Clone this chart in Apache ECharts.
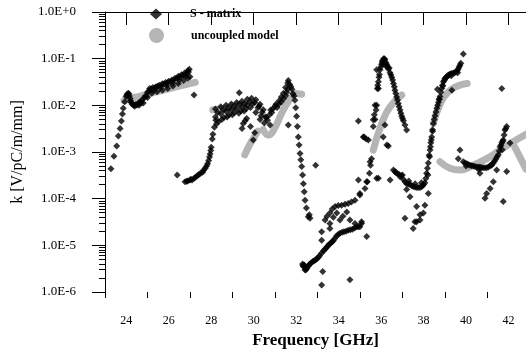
<!DOCTYPE html>
<html>
<head>
<meta charset="utf-8">
<script src="https://cdn.jsdelivr.net/npm/echarts@6/dist/echarts.min.js"></script>
<style>html,body{margin:0;padding:0;background:#fff}#c{width:526px;height:349px}</style>
</head>
<body>
<div id="c"></div>
<script>
// ---------- DATA (frequency GHz, k V/pC/m/mm) ----------
// S - matrix, first resonance band
const sBand1 = [
 [23.28,4.4e-4],[23.42,8.1e-4],[23.55,1.35e-3],[23.63,2.2e-3],[23.71,3.2e-3],[23.77,4.6e-3],[23.82,6.5e-3],[23.86,8.7e-3],
 [23.93,1.2e-2],[23.99,1.55e-2],[24.05,1.74e-2],[24.1,1.82e-2],[24.15,1.58e-2],[24.2,1.26e-2],[24.27,1.07e-2],[24.33,1.02e-2],
 [24.45,1.05e-2],[24.6,1.15e-2],[24.75,1.32e-2],[24.9,1.58e-2],[25.0,1.9e-2],[25.1,2.3e-2],[25.25,2.4e-2],[25.4,2.5e-2],
 [25.55,2.7e-2],[25.7,2.9e-2],[25.85,3.1e-2],[26.0,3.3e-2],[26.15,3.5e-2],[26.3,3.8e-2],[26.45,4.2e-2],[26.6,4.5e-2],
 [26.75,4.9e-2],[26.9,5.5e-2],[26.97,5.9e-2],[27.0,4.1e-2],[27.19,1.66e-2],
 [24.4,9.5e-3],[24.6,1.0e-2],[24.8,1.12e-2],[25.0,1.48e-2],[25.2,1.82e-2],[25.45,1.95e-2],[25.7,2.1e-2],[25.95,2.3e-2],
 [26.2,2.6e-2],[26.45,2.95e-2],[26.7,3.4e-2],[26.9,3.8e-2],
 [24.5,1.02e-2],[24.7,1.12e-2],[24.95,1.58e-2],[25.3,2.1e-2],[25.6,2.4e-2],[25.9,2.7e-2],[26.2,3.0e-2],[26.5,3.5e-2],[26.8,4.2e-2],
 [24.38,1.0e-2],[24.55,1.08e-2],[24.68,1.2e-2],[24.85,1.45e-2],[25.05,2.0e-2],[25.18,2.2e-2],[25.35,2.35e-2],[25.48,2.55e-2],
 [25.63,2.65e-2],[25.78,2.85e-2],[25.93,3.0e-2],[26.08,3.2e-2],[26.23,3.5e-2],[26.38,3.8e-2],[26.53,4.0e-2],[26.68,4.4e-2],
 [26.83,4.8e-2],[26.93,5.2e-2],[24.03,1.65e-2],[24.12,1.75e-2],[24.18,1.4e-2],[24.24,1.15e-2]
];
// S - matrix, second band (26.4 - 32.9 GHz)
const sBand2 = [
 [26.4,3.2e-4],[26.77,2.3e-4],[26.85,2.35e-4],[26.9,2.4e-4],[27.0,2.5e-4],[27.05,2.6e-4],[27.1,2.5e-4],[27.2,2.75e-4],[27.27,2.9e-4],
 [27.35,3.1e-4],[27.42,3.3e-4],[27.5,3.5e-4],[27.6,3.7e-4],[27.65,4.1e-4],[27.72,4.5e-4],[27.78,5.0e-4],[27.83,5.6e-4],[27.88,6.6e-4],
 [27.92,7.8e-4],[27.95,9.1e-4],[27.98,1.08e-3],[28.0,1.26e-3],[28.05,1.9e-3],[28.08,2.4e-3],[28.15,3.4e-3],[28.22,4.8e-3],
 [28.2,8.3e-3],[28.45,9.3e-3],[28.7,1.0e-2],[28.95,1.07e-2],[29.2,1.15e-2],[29.45,1.23e-2],[29.7,1.35e-2],[29.9,1.41e-2],[30.1,1.32e-2],[30.3,1.05e-2],
 [28.2,5.6e-3],[28.45,6.6e-3],[28.7,7.4e-3],[28.95,7.9e-3],[29.2,8.5e-3],[29.45,9.3e-3],[29.7,1.0e-2],[29.95,1.07e-2],[30.2,8.9e-3],[30.4,7.1e-3],[30.55,5.6e-3],
 [28.25,4.0e-3],[28.5,5.0e-3],[28.75,5.6e-3],[29.0,6.3e-3],[29.3,6.8e-3],[29.55,7.6e-3],[30.3,5.0e-3],[30.5,4.2e-3],[30.65,4.8e-3],
 [28.3,7.0e-3],[28.58,8.0e-3],[28.83,8.8e-3],[29.08,9.5e-3],[29.33,1.05e-2],[29.58,1.1e-2],[29.82,1.2e-2],[30.05,1.15e-2],[30.25,9.5e-3],[30.45,8.0e-3],
 [28.35,4.5e-3],[28.6,5.5e-3],[28.85,6.3e-3],[29.1,7.0e-3],[29.4,7.6e-3],[29.65,8.5e-3],[29.85,9.0e-3],[30.1,7.0e-3],[30.35,6.0e-3],[30.6,5.5e-3],
 [30.75,6.3e-3],[30.9,8.3e-3],[31.05,1.05e-2],[31.2,1.26e-2],[31.3,1.51e-2],[31.4,1.82e-2],[31.5,2.4e-2],[31.6,3.0e-2],[31.63,3.4e-2],[31.7,2.8e-2],
 [30.8,7.9e-3],[31.0,9.5e-3],[31.2,1.07e-2],[31.4,1.38e-2],[31.55,1.9e-2],[30.85,7.0e-3],[31.1,9.0e-3],[31.3,1.2e-2],[31.5,1.6e-2],[31.6,2.2e-2],
 [29.32,1.86e-2],[29.51,4.1e-3],[29.67,5.2e-3],[29.98,1.8e-3],[30.77,3.8e-3],[31.63,3.8e-3],[29.45,3.2e-3],[29.85,3.5e-3],[29.6,4.7e-3],[30.05,2.6e-3],
 [31.75,2.5e-2],[31.8,2.2e-2],[31.85,1.78e-2],[31.9,1.58e-2],[31.94,1.29e-2],[31.98,8.9e-3],[32.02,5.8e-3],[32.06,3.5e-3],[32.1,2.1e-3],[32.14,1.41e-3],
 [32.18,9.3e-4],[32.22,6.8e-4],[32.26,4.9e-4],[32.3,3.2e-4],[32.34,2.1e-4],[32.38,1.41e-4],[32.42,9.3e-5],[32.48,6.3e-5],[32.57,4.1e-5],[32.62,4.5e-5],
 [32.65,3.8e-5],[32.92,5.2e-4]
];
// S - matrix, low region (32.3 - 35.6 GHz)
const sBand3 = [
 [32.3,4.0e-6],[32.34,3.5e-6],[32.38,3.8e-6],[32.42,2.95e-6],[32.5,3.2e-6],[32.6,3.8e-6],[32.7,4.2e-6],[32.85,4.7e-6],[32.97,5.1e-6],
 [33.1,6.0e-6],[33.28,7.6e-6],[33.4,8.7e-6],[33.51,1.0e-5],[33.63,1.12e-5],[33.75,1.26e-5],[33.9,1.58e-5],[34.06,1.82e-5],[34.25,1.95e-5],
 [34.45,2.1e-5],[34.65,2.2e-5],[34.85,2.5e-5],[35.0,2.5e-5],[35.08,2.95e-5],[35.32,1.55e-5],
 [32.32,3.7e-6],[32.46,3.0e-6],[32.55,3.5e-6],[32.65,4.0e-6],[32.78,4.5e-6],[32.91,4.9e-6],[33.04,5.5e-6],[33.19,6.8e-6],[33.34,8.1e-6],
 [33.46,9.3e-6],[33.57,1.05e-5],[33.69,1.2e-5],[33.82,1.4e-5],[33.98,1.7e-5],[34.16,1.9e-5],[34.35,2.0e-5],[34.55,2.15e-5],[34.75,2.35e-5],[34.92,2.5e-5],
 [33.2,1.41e-6],[33.25,2.75e-6],[34.53,1.82e-6],
 [33.2,1.29e-5],[33.2,1.95e-5],[33.36,3.5e-5],[33.45,4.2e-5],[33.59,4.9e-5],[33.7,6.0e-5],[33.83,6.8e-5],[33.98,7.1e-5],[34.14,7.2e-5],
 [34.3,7.6e-5],[34.45,7.9e-5],[34.6,8.5e-5],[34.77,9.3e-5],[35.0,1.2e-4],[35.24,1.66e-4],[35.35,2.3e-4],[35.45,3.5e-4],[35.5,5.2e-4],[35.55,7.2e-4],
 [33.59,2.95e-5],[33.75,4.0e-5],[33.91,4.9e-5],[34.06,3.5e-5],[34.2,4.2e-5],[34.38,5.2e-5],[34.53,3.5e-5],[34.77,2.95e-5],[35.08,3.2e-5],[33.59,2.3e-5],
 [34.93,2.5e-4],[35.32,2.3e-4],[35.0,1.29e-4],[35.79,2.75e-4],[35.87,2.75e-4],[36.42,2.5e-4],[35.48,6.2e-4]
];
// S - matrix, peak near 36 GHz, trough and rise to 40 GHz
const sBand4 = [
 [34.93,4.6e-3],[35.16,2.1e-3],[35.2,2.1e-3],[35.3,1.9e-3],[35.4,1.8e-3],[36.1,2.1e-3],[36.18,3.8e-3],[36.34,1.35e-3],[36.27,1.41e-3],
 [35.63,3.5e-3],[35.71,5.0e-3],[35.76,7.9e-3],[35.79,1.0e-2],[35.82,2.3e-2],[35.87,3.2e-2],[35.9,4.0e-2],[35.95,5.8e-2],[36.02,7.6e-2],
 [36.07,9.1e-2],[36.12,1.0e-1],[36.18,9.5e-2],[36.22,8.3e-2],[36.26,7.6e-2],[36.3,6.8e-2],[36.34,6.0e-2],[36.42,5.0e-2],[36.5,4.0e-2],
 [36.58,2.95e-2],[36.65,2.1e-2],[36.73,1.51e-2],[36.81,1.1e-2],[36.89,7.9e-3],[36.97,5.8e-3],[37.05,4.7e-3],[37.12,3.8e-3],[37.2,2.95e-3],
 [35.84,2.7e-2],[35.92,4.6e-2],[35.98,6.6e-2],[36.05,8.5e-2],[36.15,1.0e-1],[36.46,4.5e-2],[36.54,3.5e-2],[36.62,2.5e-2],[36.69,1.8e-2],
 [36.77,1.3e-2],[36.85,9.3e-3],[36.93,6.8e-3],[37.01,5.2e-3],
 [35.79,5.8e-2],[35.87,2.3e-2],[35.71,1.0e-2],[35.63,4.9e-3],[35.68,6.3e-3],[36.1,7.9e-2],[36.2,7.1e-2],[36.38,6.3e-2],
 [36.58,4.1e-4],[36.65,3.8e-4],[36.75,3.5e-4],[36.89,2.95e-4],[37.04,2.6e-4],[37.2,2.1e-4],[37.36,2.0e-4],[37.51,1.82e-4],[37.67,1.74e-4],
 [37.83,1.74e-4],[37.95,1.9e-4],[38.06,2.2e-4],[38.14,3.5e-4],[38.22,5.8e-4],[38.3,1.1e-3],[38.34,1.58e-3],[38.38,2.1e-3],[38.46,4.1e-3],
 [38.54,6.0e-3],[38.62,8.7e-3],[38.7,1.17e-2],[38.77,1.55e-2],[38.85,2.3e-2],[38.93,3.2e-2],[39.0,3.7e-2],[39.08,4.1e-2],[39.16,4.4e-2],
 [39.25,4.7e-2],[39.4,4.9e-2],[39.52,5.2e-2],[39.63,6.0e-2],[39.71,7.2e-2],[39.87,1.26e-1],
 [36.7,3.6e-4],[36.95,3.1e-4],[37.12,2.3e-4],[37.28,2.05e-4],[37.44,1.9e-4],[37.59,1.78e-4],[37.75,1.74e-4],[37.9,1.8e-4],[38.0,2.0e-4],[38.1,2.7e-4],
 [36.85,3.3e-4],[37.0,3.2e-4],[37.3,2.4e-4],[37.6,2.1e-4],[37.9,2.2e-4],[38.2,3.2e-4],[38.28,7.9e-4],[38.42,2.8e-3],[38.58,7.2e-3],
 [38.74,1.35e-2],[38.9,2.6e-2],[39.3,4.3e-2],[39.6,5.0e-2],
 [38.18,4.5e-4],[38.26,8.5e-4],[38.32,1.3e-3],[38.36,1.8e-3],[38.42,3.0e-3],[38.5,5.0e-3],[38.66,1.0e-2],[38.73,1.35e-2],[38.81,1.9e-2],
 [38.89,2.7e-2],[38.97,3.4e-2],[39.04,3.9e-2],[39.12,4.2e-2],[39.2,4.5e-2],[39.32,4.8e-2],[39.46,5.0e-2],[39.58,5.5e-2],[39.67,6.6e-2],[39.75,8.0e-2],
 [37.36,1.1e-4],[37.67,6.8e-5],[37.99,4.9e-5],[37.83,3.5e-5],[37.51,2.3e-5],[37.12,3.8e-5],[38.06,7.2e-5],[37.83,4.5e-5],[38.22,1.29e-4],
 [37.2,1.58e-4],[37.59,3.2e-5],[37.67,3.2e-5],[38.65,2.2e-2],[39.33,2.1e-2]
];
// S - matrix, right region (39.6 - 42.1 GHz)
const sBand5 = [
 [39.63,7.2e-4],[39.71,1.1e-3],[39.87,6.2e-4],[40.03,5.6e-4],[40.18,5.2e-4],[40.34,5.0e-4],[40.5,4.8e-4],[40.65,4.7e-4],[40.8,4.6e-4],
 [40.97,4.6e-4],[41.12,5.0e-4],[41.28,5.8e-4],[41.4,7.1e-4],[41.52,8.7e-4],[41.6,1.29e-3],[41.68,1.58e-3],[41.75,1.8e-3],[41.83,2.95e-3],
 [41.91,3.5e-3],[42.07,1.55e-3],[40.0,5.0e-4],[40.6,4.2e-4],[41.2,5.2e-4],[41.7,1.12e-3],
 [39.95,5.8e-4],[40.1,5.4e-4],[40.26,5.1e-4],[40.42,4.9e-4],[40.58,4.75e-4],[40.72,4.65e-4],[40.88,4.6e-4],[41.05,4.8e-4],[41.2,5.4e-4],
 [41.34,6.4e-4],[41.46,7.9e-4],[41.56,1.05e-3],[41.64,1.4e-3],[41.72,1.7e-3],[41.79,2.3e-3],[41.87,3.2e-3],
 [41.68,2.3e-2],[40.65,3.5e-4],[41.44,4.1e-4],[41.91,3.8e-4],[41.28,2.3e-4],[41.13,1.66e-4],[40.97,1.29e-4],[40.89,1.02e-4],[41.75,8.7e-5]
];
// uncoupled model curves
const uSeg1 = [[23.9,1.26e-2],[24.5,1.51e-2],[25.5,2.0e-2],[26.5,2.57e-2],[27.25,3.1e-2]];
const uSeg2 = [[28.08,8.0e-3],[28.6,8.6e-3],[29.1,9.6e-3],[29.5,1.05e-2]];
const uSeg3 = [[29.58,8.7e-4],[29.8,1.4e-3],[30.0,2.0e-3],[30.2,2.8e-3]];
const uSeg4 = [[30.45,3.0e-3],[30.7,2.3e-3],[30.95,3.0e-3],[31.32,6.8e-3],[31.63,1.2e-2],[31.95,1.8e-2],[32.26,1.74e-2]];
const uSeg5 = [[35.63,1.1e-3],[36.03,4.1e-3],[36.42,9.3e-3],[36.97,1.66e-2]];
const uSeg6 = [[38.46,4.1e-3],[38.8,1.12e-2],[39.16,1.95e-2],[39.6,2.6e-2],[40.05,2.95e-2]];
const uSeg7 = [[38.77,6.2e-4],[39.24,4.5e-4],[39.71,4.1e-4],[40.34,5.2e-4],[40.97,7.2e-4],[41.6,1.1e-3],[42.22,1.66e-3],[42.82,2.4e-3]];
const uSeg8 = [[42.3,1.26e-3],[42.82,4.3e-4]];

const xMajorTicks = [24,26,28,30,32,34,36,38,40,42];
const xMinorTicks = [23,25,27,29,31,33,35,37,39,41];
const yTickLabels = {'-6':'1.0E-6','-5':'1.0E-5','-4':'1.0E-4','-3':'1.0E-3','-2':'1.0E-2','-1':'1.0E-1','0':'1.0E+0'};
// ---------------------------------------------------------

const FONT = "'Liberation Serif','DejaVu Serif',serif";
// minor tick positions of the log axis, expressed as exponents on an overlaid helper axis
const yMinorExp = [];
for (let e = -6; e < 0; e++) for (let m = 2; m <= 9; m++) yMinorExp.push(e + Math.log10(m));

const sAll = [].concat(sBand1, sBand2, sBand3, sBand4, sBand5);
const uSegs = [uSeg1, uSeg2, uSeg3, uSeg4, uSeg5, uSeg6, uSeg7, uSeg8];
const GREY = '#b5b5b5';

const series = uSegs.map(seg => ({
  name: 'uncoupled model', type: 'line', data: seg, smooth: true, showSymbol: false, symbol: 'circle',
  lineStyle: {color: GREY, width: 7, cap: 'round', join: 'round'}, itemStyle: {color: GREY},
  xAxisIndex: 0, yAxisIndex: 0, z: 1, silent: true
}));
series.push({
  name: 'S - matrix', type: 'scatter', data: sAll, symbol: 'diamond', symbolSize: 7,
  itemStyle: {color: '#000'}, xAxisIndex: 0, yAxisIndex: 0, z: 3
});

const chart = echarts.init(document.getElementById('c'), null, {renderer: 'canvas'});
chart.setOption({
  animation: false,
  backgroundColor: '#fff',
  grid: {left: 105, right: 0, top: 12, bottom: 57, containLabel: false, outerBoundsMode: 'none'},
  legend: [
    {data: [{name: 'S - matrix', icon: 'diamond'}], left: 150, top: 8, padding: 0, itemWidth: 12, itemHeight: 11,
     textStyle: {fontFamily: FONT, fontWeight: 'bold', fontSize: 12, color: '#000', padding: [0,0,0,23]}},
    {data: [{name: 'uncoupled model', icon: 'circle'}], left: 149, top: 28, padding: 0, itemWidth: 15, itemHeight: 15,
     textStyle: {fontFamily: FONT, fontWeight: 'bold', fontSize: 12, color: '#000', padding: [0,0,0,22]}}
  ],
  xAxis: [{
    type: 'value', min: 23, max: 42.82, position: 'bottom',
    axisLine: {show: true, lineStyle: {color: '#000', width: 1}},
    axisTick: {show: true, length: 13, customValues: xMajorTicks, lineStyle: {color: '#000', width: 1}},
    axisLabel: {customValues: xMajorTicks, margin: 23, fontSize: 12, color: '#000', fontFamily: FONT},
    splitLine: {show: false},
    name: 'Frequency [GHz]', nameLocation: 'middle', nameGap: 32,
    nameTextStyle: {fontFamily: FONT, fontWeight: 'bold', fontSize: 17, color: '#000'}
  }, {
    type: 'value', min: 23, max: 42.82, position: 'bottom',
    axisLine: {show: false},
    axisTick: {show: true, length: 6, customValues: xMinorTicks, lineStyle: {color: '#000', width: 1}},
    axisLabel: {show: false}, splitLine: {show: false}
  }],
  yAxis: [{
    type: 'log', logBase: 10, min: 1e-6, max: 1, position: 'left', splitNumber: 6,
    axisLine: {show: true, lineStyle: {color: '#000', width: 1}},
    axisTick: {show: true, length: 13, lineStyle: {color: '#000', width: 1}},
    axisLabel: {margin: 29, fontSize: 13, color: '#000', fontFamily: FONT,
      formatter: v => yTickLabels[String(Math.round(Math.log10(v)))] || ''},
    splitLine: {show: false},
    name: 'k [V/pC/m/mm]', nameLocation: 'middle', nameGap: 79,
    nameTextStyle: {fontFamily: FONT, fontSize: 16, color: '#000'}
  }, {
    type: 'value', min: -6, max: 0, position: 'left',
    axisLine: {show: false},
    axisTick: {show: true, length: 6, customValues: yMinorExp, lineStyle: {color: '#000', width: 1}},
    axisLabel: {show: false}, splitLine: {show: false}
  }],
  series: series
});
</script>
</body>
</html>
